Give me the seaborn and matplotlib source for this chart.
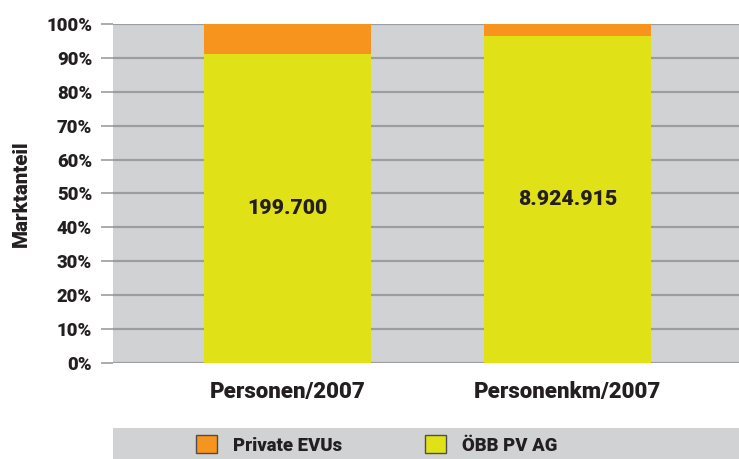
import matplotlib
matplotlib.use("Agg")
import matplotlib.pyplot as plt
import seaborn as sns
import pandas as pd
from matplotlib.patches import Rectangle, Patch

categories = ["Personen/2007", "Personenkm/2007"]
oebb_share = [91.1, 96.5]
private_share = [8.9, 3.5]
bar_labels = ["199.700", "8.924.915"]
series_names = ["Private EVUs", "ÖBB PV AG"]
yticks = [0, 10, 20, 30, 40, 50, 60, 70, 80, 90, 100]
ytick_labels = [f"{v}%" for v in yticks]

ORANGE = "#f7941e"
YELLOW = "#e1e118"
BG = "#d1d2d4"
GRID = "#9c9da0"
TXT = "#231f20"
W = "black"

sns.set_theme(style="white")
plt.rcParams["font.family"] = ["Roboto", "DejaVu Sans"]
plt.rcParams["font.weight"] = W

fig = plt.figure(figsize=(7.39, 4.59), dpi=100)
ax = fig.add_axes([113/739, 96/459, 626/739, 339/459])
ax.set_facecolor(BG)

df = pd.DataFrame({
    "cat": categories,
    "oebb": oebb_share,
    "total": [o + p for o, p in zip(oebb_share, private_share)],
})

for y in yticks:
    ax.axhline(y, color=GRID, lw=1.6, zorder=0.5)

sns.barplot(data=df, x="cat", y="total", color=ORANGE, saturation=1, width=0.596,
            ax=ax, zorder=2, linewidth=0)
sns.barplot(data=df, x="cat", y="oebb", color=YELLOW, saturation=1, width=0.596,
            ax=ax, zorder=3, linewidth=0)

for i, (lab, v) in enumerate(zip(bar_labels, oebb_share)):
    ax.text(i, v / 2, lab, ha="center", va="center", fontsize=15.3,
            fontweight=W, color=TXT, zorder=5)

ax.set_xlim(-0.623, 1.612)
ax.set_ylim(0, 100)
ax.set_yticks(yticks)
ax.set_yticklabels(ytick_labels, fontsize=13.3, fontweight=W, color=TXT)
ax.tick_params(axis="y", length=9, width=1.2, color=GRID, pad=6, left=True)
ax.tick_params(axis="x", length=0, pad=13)
for lab in ax.get_xticklabels():
    lab.set_fontsize(16)
    lab.set_fontweight(W)
    lab.set_color(TXT)
ax.set_xlabel("")
ax.set_ylabel("Marktanteil", fontsize=14.8, fontweight=W, color=TXT, labelpad=11)
for s in ax.spines.values():
    s.set_visible(False)

# legend band
fig.patches.append(Rectangle((113/739, 0), 626/739, 31/459, transform=fig.transFigure,
                             facecolor=BG, edgecolor="none", zorder=0))
handles = [Patch(facecolor=ORANGE, edgecolor="#4d4d4d", linewidth=1.0),
           Patch(facecolor=YELLOW, edgecolor="#4d4d4d", linewidth=1.0)]
leg = fig.legend(handles, series_names, loc="center", ncol=2,
                 bbox_to_anchor=(377/739, 14/459), frameon=False,
                 prop={"size": 13.3, "weight": W}, handlelength=1.1,
                 handleheight=1.1, handletextpad=0.9, columnspacing=4.5)
for t in leg.get_texts():
    t.set_color(TXT)

fig.savefig("out.png", dpi=100)
